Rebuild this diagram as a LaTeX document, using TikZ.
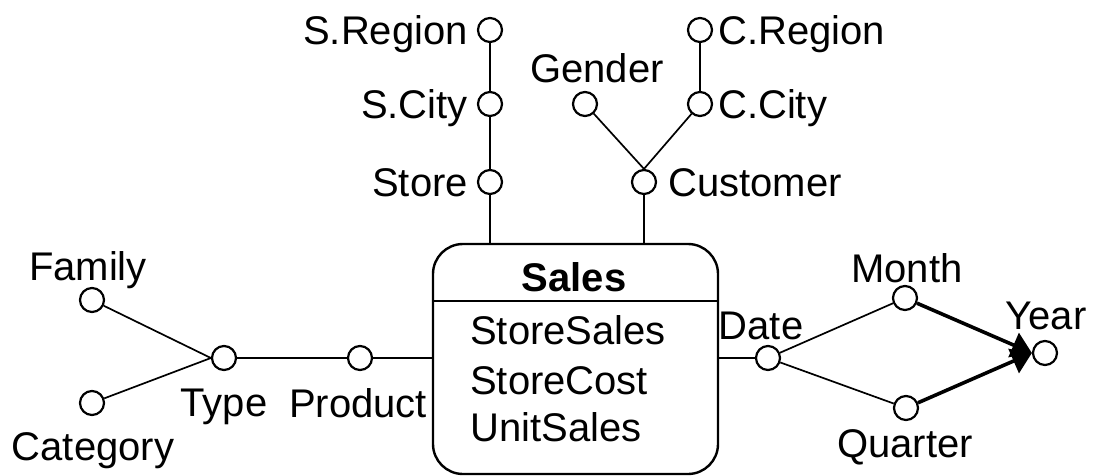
\documentclass[tikz,border=0pt]{standalone}
\usepackage{fontspec}
\setmainfont{Liberation Sans}
\usetikzlibrary{arrows.meta}
\begin{document}
\begin{tikzpicture}[x=1pt,y=-1pt,
 lvl/.style={circle,draw,line width=2.2pt,minimum size=24pt,inner sep=0pt},
 lab/.style={font=\fontsize{40}{44}\selectfont,inner sep=0pt,text height=29pt,text depth=0pt},
 link/.style={line width=1.7pt},
 roll/.style={line width=3.6pt,-{Triangle[length=20pt,width=26pt]}}]
\useasboundingbox (0,0) rectangle (1094,476);
% fact box
\node[draw,line width=2.4pt,rounded corners=30pt,minimum width=285pt,minimum height=230pt,inner sep=0pt] (sales) at (575.5,359) {};
\coordinate (dl) at (433,301);
\coordinate (dr) at (718,301);
\draw[line width=1.7pt] (dl) -- (dr);
\node[lab,font=\fontsize{40}{44}\selectfont\bfseries] (salest) at (574,277) {Sales};
\node[lab,anchor=west] (m1) at (470,330) {StoreSales};
\node[lab,anchor=west] (m2) at (470,380) {StoreCost};
\node[lab,anchor=west] (m3) at (470,427) {UnitSales};
% levels
\node[lvl] (sreg) at (490,30) {};
\node[lvl] (scity) at (490,104) {};
\node[lvl] (store) at (490,182) {};
\node[lvl] (gender) at (585,104) {};
\node[lvl] (creg) at (700,30) {};
\node[lvl] (ccity) at (700,104) {};
\node[lvl] (cust) at (644,182) {};
\node[lvl] (family) at (92,300) {};
\node[lvl] (categ) at (92,403) {};
\node[lvl] (type) at (224,358) {};
\node[lvl] (product) at (360,358) {};
\node[lvl] (date) at (768,358) {};
\node[lvl] (month) at (905,298) {};
\node[lvl] (quarter) at (906,408) {};
\node[lvl] (year) at (1045,353) {};
% labels
\node[lab,anchor=east] at (468,30) {S.Region};
\node[lab,anchor=east] at (468,104) {S.City};
\node[lab,anchor=east] at (468,182) {Store};
\node[lab] at (597,68) {Gender};
\node[lab,anchor=west] at (718,30) {C.Region};
\node[lab,anchor=west] at (718,104) {C.City};
\node[lab,anchor=west] at (668,182) {Customer};
\node[lab] at (88,266) {Family};
\node[lab] at (93,446) {Category};
\node[lab] at (224,402) {Type};
\node[lab] at (358,403) {Product};
\node[lab] at (761,325) {Date};
\node[lab] at (907,268) {Month};
\node[lab] at (905,443) {Quarter};
\node[lab] at (1046,315) {Year};
% links
\draw[link] (sreg) -- (scity);
\draw[link] (scity) -- (store);
\draw[link] (store) -- (store |- sales.north);
\draw[link] (creg) -- (ccity);
\draw[link] (gender) -- (cust.north);
\draw[link] (ccity) -- (cust.north);
\draw[link] (cust) -- (cust |- sales.north);
\draw[link] (family) -- (type.west);
\draw[link] (categ) -- (type.west);
\draw[link] (type) -- (product);
\draw[link] (product) -- (product -| sales.west);
\draw[link] (sales.east |- date) -- (date);
\draw[link] (date) -- (month);
\draw[link] (date) -- (quarter);
\draw[roll] (month) -- (year.west);
\draw[roll] (quarter) -- (year.west);
\end{tikzpicture}
\end{document}
